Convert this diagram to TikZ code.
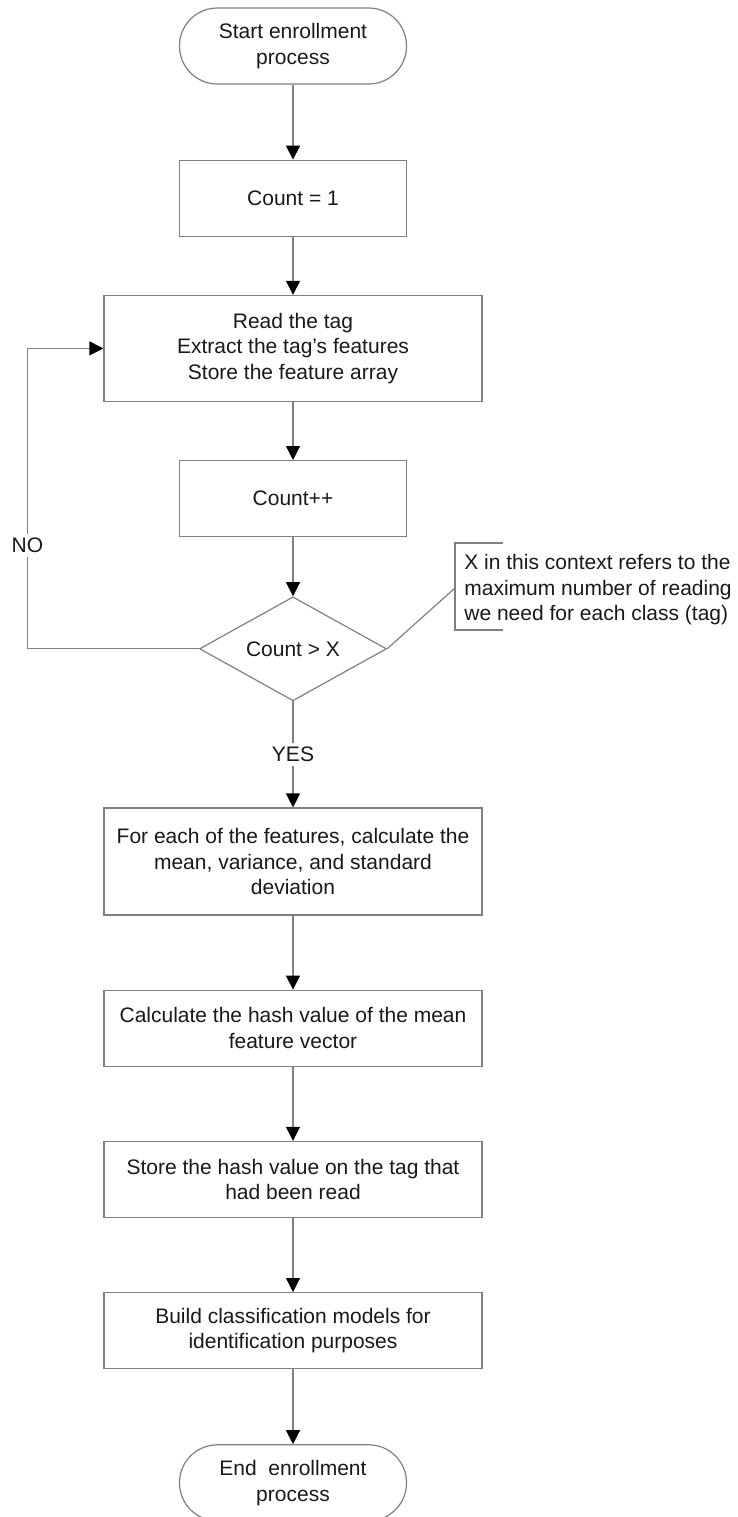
\documentclass[tikz,border=0pt]{standalone}
\usepackage{fontspec}
\setmainfont{Liberation Sans}
\usetikzlibrary{positioning, shapes.geometric, arrows.meta, calc}

\begin{document}
\begin{tikzpicture}[
    x=0.5pt, y=-0.5pt,
    font=\fontsize{10.5}{12.75}\selectfont,
    line/.style={draw=black!50, line width=0.6pt},
    term/.style={line, rectangle, rounded corners=18.9pt, minimum width=113.5pt, minimum height=38pt, align=center, text=black!90},
    proc/.style={line, rectangle, minimum width=113.5pt, minimum height=38pt, align=center, text=black!90},
    wide/.style={proc, minimum width=189pt},
    decision/.style={line, diamond, shape aspect=1.8, minimum width=93.5pt, minimum height=52pt, inner sep=1pt, text=black!90},
    arrow/.style={line, -{Triangle[length=7pt, width=7pt, black]}},
    lbl/.style={fill=white, inner sep=2pt, text=black!90}
]
    \useasboundingbox (0,0) rectangle (738,1517);

    % Main column
    \node[term] (start) at (293,46) {Start enrollment\\process};
    \node[proc, below=37.5pt of start] (init) {Count = 1};
    \node[wide, minimum height=53pt, below=29pt of init] (read) {Read the tag\\Extract the tag's features\\Store the feature array};
    \node[proc, below=29pt of read] (incr) {Count++};
    \node[decision, below=29.5pt of incr] (check) {Count > X};
    \node[wide, minimum height=53.5pt, below=53pt of check] (stats) {For each of the features, calculate the\\mean, variance, and standard\\deviation};
    \node[wide, below=37pt of stats] (hash) {Calculate the hash value of the mean\\feature vector};
    \node[wide, below=37pt of hash] (store) {Store the hash value on the tag that\\had been read};
    \node[wide, below=37pt of store] (build) {Build classification models for\\identification purposes};
    \node[term, below=37.5pt of build] (stop) {End~ enrollment\\process};

    % Note on the decision
    \node[anchor=west, align=left, inner sep=0pt, text=black!90] (note) at (464,590) {X in this context refers to the\\maximum number of reading\\we need for each class (tag)};
    \coordinate (brk) at ($(note.west)+(-9,-2)$);
    \draw[line] ($(brk)+(48,-45)$) -- ($(brk)+(0,-45)$) -- ($(brk)+(0,42)$) -- ($(brk)+(48,42)$);
    \draw[line] (check.east) -- (brk);

    % Flow
    \draw[arrow] (start) -- (init);
    \draw[arrow] (init) -- (read);
    \draw[arrow] (read) -- (incr);
    \draw[arrow] (incr) -- (check);
    \draw[arrow] (check) -- node[lbl] {YES} (stats);
    \draw[arrow] (stats) -- (hash);
    \draw[arrow] (hash) -- (store);
    \draw[arrow] (store) -- (build);
    \draw[arrow] (build) -- (stop);

    % Loop back
    \coordinate (noturn) at ($(read.west)+(-76,0)$);
    \draw[arrow] (check.west) -| node[lbl, pos=0.672] {NO} (noturn) -- (read.west);

\end{tikzpicture}
\end{document}
